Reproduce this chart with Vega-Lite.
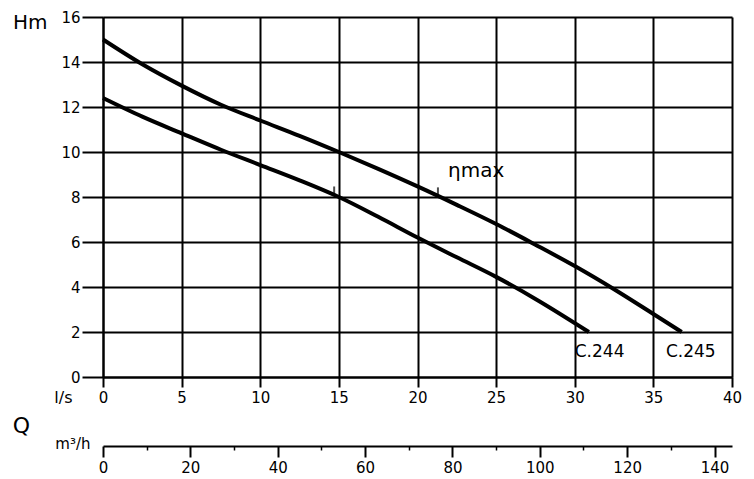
{
  "$schema": "https://vega.github.io/schema/vega-lite/v6.json",
  "width": 629,
  "height": 360,
  "autosize": {"type": "none"},
  "padding": {"left": 103, "top": 17, "right": 22, "bottom": 102},
  "background": "white",
  "config": {
    "font": "DejaVu Sans",
    "view": {"stroke": null},
    "axis": {"labelColor": "black", "titleColor": "black", "tickColor": "black", "domainColor": "black", "labelOverlap": false, "labelFlush": false, "titleFontWeight": "normal"}
  },
  "datasets": {
    "curves": [
      {"series": "C.245", "Q": 0, "H": 15.0},
      {"series": "C.245", "Q": 2.5, "H": 13.9},
      {"series": "C.245", "Q": 5, "H": 12.95},
      {"series": "C.245", "Q": 7.5, "H": 12.1},
      {"series": "C.245", "Q": 10, "H": 11.4},
      {"series": "C.245", "Q": 12.5, "H": 10.72},
      {"series": "C.245", "Q": 15, "H": 10.0},
      {"series": "C.245", "Q": 17.5, "H": 9.25},
      {"series": "C.245", "Q": 20, "H": 8.47},
      {"series": "C.245", "Q": 22.5, "H": 7.65},
      {"series": "C.245", "Q": 25, "H": 6.8},
      {"series": "C.245", "Q": 27.5, "H": 5.88},
      {"series": "C.245", "Q": 30, "H": 4.93},
      {"series": "C.245", "Q": 32.5, "H": 3.9},
      {"series": "C.245", "Q": 35, "H": 2.8},
      {"series": "C.245", "Q": 36.8, "H": 2.0},
      {"series": "C.244", "Q": 0, "H": 12.4},
      {"series": "C.244", "Q": 2.5, "H": 11.57},
      {"series": "C.244", "Q": 5, "H": 10.83},
      {"series": "C.244", "Q": 7.5, "H": 10.1},
      {"series": "C.244", "Q": 10, "H": 9.42},
      {"series": "C.244", "Q": 12.5, "H": 8.74},
      {"series": "C.244", "Q": 15, "H": 8.0},
      {"series": "C.244", "Q": 17.5, "H": 7.12},
      {"series": "C.244", "Q": 20, "H": 6.2},
      {"series": "C.244", "Q": 22.5, "H": 5.32},
      {"series": "C.244", "Q": 25, "H": 4.45},
      {"series": "C.244", "Q": 27.5, "H": 3.47},
      {"series": "C.244", "Q": 30.9, "H": 2.0}
    ],
    "etamax": [
      {"series": "C.245", "Q": 21.3, "H": 8.05},
      {"series": "C.244", "Q": 14.7, "H": 8.09}
    ],
    "labels": [
      {"kind": "eta", "label": "ηmax", "Q": 21.94, "H": 8.88},
      {"kind": "curve", "label": "C.244", "Q": 30.0, "H": 1.12},
      {"kind": "curve", "label": "C.245", "Q": 35.8, "H": 1.12}
    ],
    "m3h": [{"m3h": 0}, {"m3h": 144}]
  },
  "layer": [
    {
      "layer": [
        {
          "data": {"name": "curves"},
          "mark": {"type": "line", "color": "black", "strokeWidth": 4, "interpolate": "monotone"},
          "encoding": {
            "x": {
              "field": "Q", "type": "quantitative",
              "scale": {"domain": [0, 40], "nice": false},
              "axis": {
                "values": [0, 5, 10, 15, 20, 25, 30, 35, 40],
                "grid": true, "gridColor": "black", "gridWidth": 2, "gridOpacity": 1,
                "tickSize": 10, "tickWidth": 2, "domainWidth": 2,
                "labelFontSize": 15, "labelPadding": 3,
                "title": "l/s", "titleFontSize": 16, "titleX": -31, "titleY": 25,
                "titleAlign": "right", "titleBaseline": "alphabetic"
              }
            },
            "y": {
              "field": "H", "type": "quantitative",
              "scale": {"domain": [0, 16], "nice": false},
              "axis": {
                "values": [0, 2, 4, 6, 8, 10, 12, 14, 16],
                "grid": true, "gridColor": "black", "gridWidth": 2, "gridOpacity": 1,
                "tickSize": 21, "tickWidth": 2, "domainWidth": 2,
                "labelFontSize": 15, "labelPadding": 2,
                "title": "Hm", "titleFontSize": 20, "titleAngle": 0, "titleX": -56, "titleY": 11,
                "titleAlign": "right", "titleBaseline": "alphabetic"
              }
            },
            "detail": {"field": "series", "type": "nominal"}
          }
        },
        {
          "data": {"name": "etamax"},
          "mark": {"type": "tick", "orient": "vertical", "color": "black", "size": 9, "thickness": 2, "yOffset": -4},
          "encoding": {
            "x": {"field": "Q", "type": "quantitative"},
            "y": {"field": "H", "type": "quantitative"}
          }
        },
        {
          "data": {"name": "labels"},
          "transform": [{"filter": "datum.kind === 'eta'"}],
          "mark": {"type": "text", "align": "left", "baseline": "alphabetic", "fontSize": 20, "color": "black"},
          "encoding": {
            "x": {"field": "Q", "type": "quantitative"},
            "y": {"field": "H", "type": "quantitative"},
            "text": {"field": "label"}
          }
        },
        {
          "data": {"name": "labels"},
          "transform": [{"filter": "datum.kind === 'curve'"}],
          "mark": {"type": "text", "align": "left", "baseline": "middle", "fontSize": 17, "color": "black"},
          "encoding": {
            "x": {"field": "Q", "type": "quantitative"},
            "y": {"field": "H", "type": "quantitative"},
            "text": {"field": "label"}
          }
        }
      ]
    },
    {
      "data": {"name": "m3h"},
      "mark": {"type": "point", "opacity": 0},
      "encoding": {
        "x": {
          "field": "m3h", "type": "quantitative",
          "scale": {"domain": [0, 144], "nice": false},
          "axis": {
            "orient": "bottom", "offset": 69,
            "values": [0, 20, 40, 60, 80, 100, 120, 140],
            "grid": false, "tickSize": 11, "tickWidth": 2, "domainWidth": 2,
            "labelFontSize": 15, "labelPadding": 3,
            "title": "m³/h", "titleFontSize": 15, "titleX": -13, "titleY": 2,
            "titleAlign": "right", "titleBaseline": "alphabetic"
          }
        }
      }
    },
    {
      "data": {"name": "m3h"},
      "mark": {"type": "point", "opacity": 0},
      "encoding": {
        "x": {
          "field": "m3h", "type": "quantitative",
          "scale": {"domain": [0, 144], "nice": false},
          "axis": {
            "orient": "bottom", "offset": 69,
            "values": [10, 30, 50, 70, 90, 110, 130],
            "grid": false, "tickSize": 4, "tickWidth": 1.5, "domain": false, "labels": false,
            "title": "Q", "titleFontSize": 22, "titleX": -82, "titleY": -14,
            "titleAlign": "center", "titleBaseline": "alphabetic"
          }
        }
      }
    }
  ],
  "resolve": {"scale": {"x": "independent"}, "axis": {"x": "independent"}}
}
